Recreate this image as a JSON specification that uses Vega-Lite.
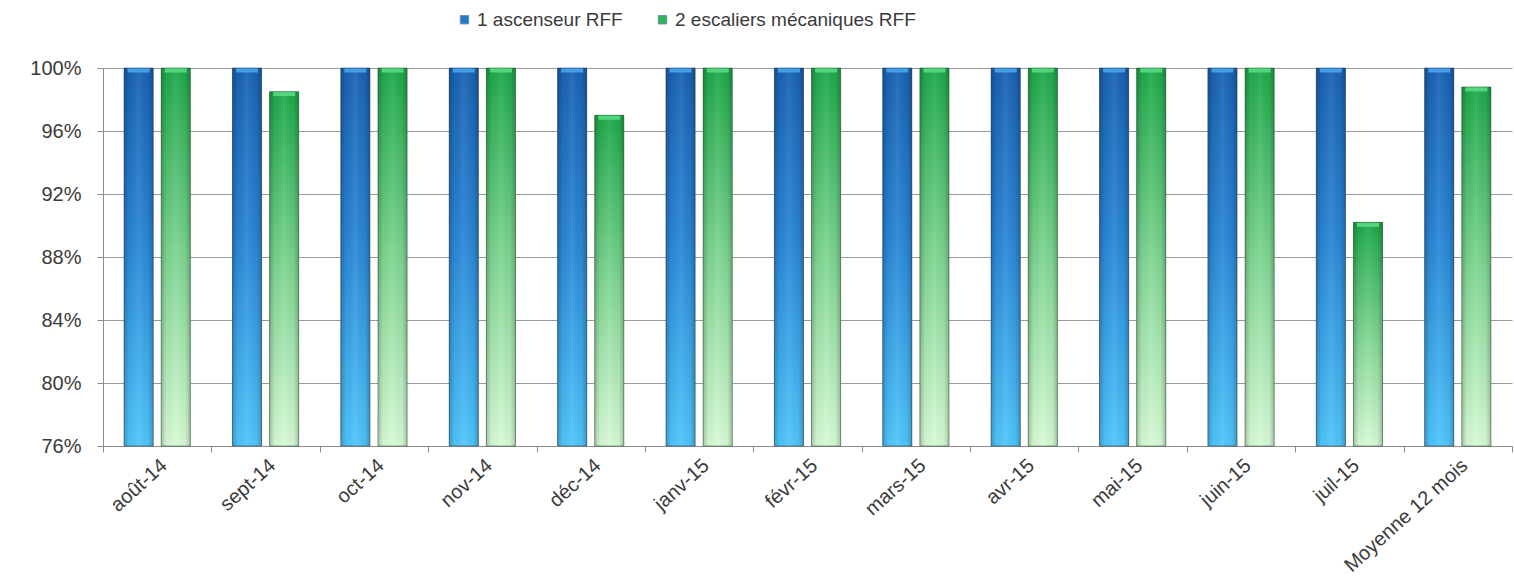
{
  "$schema": "https://vega.github.io/schema/vega-lite/v6.json",
  "width": 1409,
  "height": 378,
  "autosize": {"type": "none"},
  "padding": {"left": 103, "top": 68, "right": 2, "bottom": 138},
  "config": {
    "view": {"stroke": null},
    "font": "Liberation Sans",
    "axis": {"labelFont": "Liberation Sans", "labelColor": "#3a3a3a"},
    "legend": {"labelFont": "Liberation Sans"}
  },
  "data": {
    "values": [
      {"mois": "août-14", "serie": "1 ascenseur RFF", "taux": 1.0},
      {"mois": "août-14", "serie": "2 escaliers mécaniques RFF", "taux": 1.0},
      {"mois": "sept-14", "serie": "1 ascenseur RFF", "taux": 1.0},
      {"mois": "sept-14", "serie": "2 escaliers mécaniques RFF", "taux": 0.985},
      {"mois": "oct-14", "serie": "1 ascenseur RFF", "taux": 1.0},
      {"mois": "oct-14", "serie": "2 escaliers mécaniques RFF", "taux": 1.0},
      {"mois": "nov-14", "serie": "1 ascenseur RFF", "taux": 1.0},
      {"mois": "nov-14", "serie": "2 escaliers mécaniques RFF", "taux": 1.0},
      {"mois": "déc-14", "serie": "1 ascenseur RFF", "taux": 1.0},
      {"mois": "déc-14", "serie": "2 escaliers mécaniques RFF", "taux": 0.970},
      {"mois": "janv-15", "serie": "1 ascenseur RFF", "taux": 1.0},
      {"mois": "janv-15", "serie": "2 escaliers mécaniques RFF", "taux": 1.0},
      {"mois": "févr-15", "serie": "1 ascenseur RFF", "taux": 1.0},
      {"mois": "févr-15", "serie": "2 escaliers mécaniques RFF", "taux": 1.0},
      {"mois": "mars-15", "serie": "1 ascenseur RFF", "taux": 1.0},
      {"mois": "mars-15", "serie": "2 escaliers mécaniques RFF", "taux": 1.0},
      {"mois": "avr-15", "serie": "1 ascenseur RFF", "taux": 1.0},
      {"mois": "avr-15", "serie": "2 escaliers mécaniques RFF", "taux": 1.0},
      {"mois": "mai-15", "serie": "1 ascenseur RFF", "taux": 1.0},
      {"mois": "mai-15", "serie": "2 escaliers mécaniques RFF", "taux": 1.0},
      {"mois": "juin-15", "serie": "1 ascenseur RFF", "taux": 1.0},
      {"mois": "juin-15", "serie": "2 escaliers mécaniques RFF", "taux": 1.0},
      {"mois": "juil-15", "serie": "1 ascenseur RFF", "taux": 1.0},
      {"mois": "juil-15", "serie": "2 escaliers mécaniques RFF", "taux": 0.902},
      {"mois": "Moyenne 12 mois", "serie": "1 ascenseur RFF", "taux": 1.0},
      {"mois": "Moyenne 12 mois", "serie": "2 escaliers mécaniques RFF", "taux": 0.988}
    ]
  },
  "encoding": {
    "x": {
      "field": "mois",
      "type": "nominal",
      "sort": ["août-14", "sept-14", "oct-14", "nov-14", "déc-14", "janv-15", "févr-15", "mars-15", "avr-15", "mai-15", "juin-15", "juil-15", "Moyenne 12 mois"],
      "scale": {"paddingInner": 0, "paddingOuter": 0},
      "axis": {
        "title": null,
        "labelAngle": -42,
        "labelAlign": "right",
        "labelBaseline": "top",
        "labelFontSize": 20,
        "labelPadding": 3,
        "tickBand": "extent",
        "tickColor": "#8c8c8c",
        "tickSize": 6,
        "domainColor": "#8c8c8c",
        "grid": false
      }
    },
    "xOffset": {
      "field": "serie",
      "type": "nominal",
      "scale": {"paddingInner": 0.216, "paddingOuter": 0.567}
    },
    "y": {
      "field": "taux",
      "type": "quantitative",
      "scale": {"domain": [0.76, 1.0], "zero": false, "nice": false},
      "axis": {
        "title": null,
        "values": [0.76, 0.8, 0.84, 0.88, 0.92, 0.96, 1.0],
        "format": ".0%",
        "labelFontSize": 20,
        "labelPadding": 16,
        "tickSize": 6,
        "tickColor": "#8c8c8c",
        "domainColor": "#8c8c8c",
        "gridColor": "#9a9a9a",
        "gridWidth": 1
      }
    },
    "y2": {"datum": 0.76}
  },
  "layer": [
    {
      "mark": {"type": "bar"},
      "encoding": {
        "color": {
          "field": "serie",
          "type": "nominal",
          "scale": {"range": ["#2279cc", "#2fb35a"]},
          "legend": {
            "title": null,
            "orient": "none",
            "direction": "horizontal",
            "legendX": 352,
            "legendY": -58,
            "symbolType": "square",
            "symbolSize": 70,
            "symbolStrokeColor": "#6b8fa8",
            "symbolStrokeWidth": 1,
            "labelFontSize": 19,
            "labelColor": "#3a3a3a",
            "labelOffset": 3,
            "columnPadding": 30,
            "labelLimit": 400
          }
        }
      }
    },
    {
      "transform": [{"filter": "datum.serie === '1 ascenseur RFF'"}],
      "mark": {
        "type": "bar",
        "stroke": "#3d4a55",
        "strokeWidth": 1,
        "strokeOpacity": 0.6,
        "fill": {
          "gradient": "linear",
          "x1": 0, "y1": 0, "x2": 0, "y2": 1,
          "stops": [
            {"offset": 0, "color": "#1a62b3"},
            {"offset": 0.45, "color": "#2a86d6"},
            {"offset": 1, "color": "#4fc6fb"}
          ]
        }
      }
    },
    {
      "transform": [{"filter": "datum.serie === '2 escaliers mécaniques RFF'"}],
      "mark": {
        "type": "bar",
        "stroke": "#3d5a45",
        "strokeWidth": 1,
        "strokeOpacity": 0.55,
        "fill": {
          "gradient": "linear",
          "x1": 0, "y1": 0, "x2": 0, "y2": 1,
          "stops": [
            {"offset": 0, "color": "#1ea84a"},
            {"offset": 0.5, "color": "#7fd693"},
            {"offset": 1, "color": "#d8fbd6"}
          ]
        }
      }
    },
    {
      "mark": {
        "type": "bar",
        "fill": {
          "gradient": "linear",
          "x1": 0, "y1": 0, "x2": 1, "y2": 0,
          "stops": [
            {"offset": 0, "color": "rgba(0,0,0,0.22)"},
            {"offset": 0.18, "color": "rgba(0,0,0,0.03)"},
            {"offset": 0.5, "color": "rgba(255,255,255,0.07)"},
            {"offset": 0.82, "color": "rgba(0,0,0,0.03)"},
            {"offset": 1, "color": "rgba(0,0,0,0.22)"}
          ]
        }
      }
    },
    {
      "transform": [{"filter": "datum.serie === '1 ascenseur RFF'"}],
      "mark": {"type": "tick", "color": "#46a6f0", "thickness": 4, "size": 22, "yOffset": 2.5, "opacity": 0.9}
    },
    {
      "transform": [{"filter": "datum.serie === '2 escaliers mécaniques RFF'"}],
      "mark": {"type": "tick", "color": "#56dc82", "thickness": 4, "size": 22, "yOffset": 2.5, "opacity": 0.9}
    }
  ]
}
